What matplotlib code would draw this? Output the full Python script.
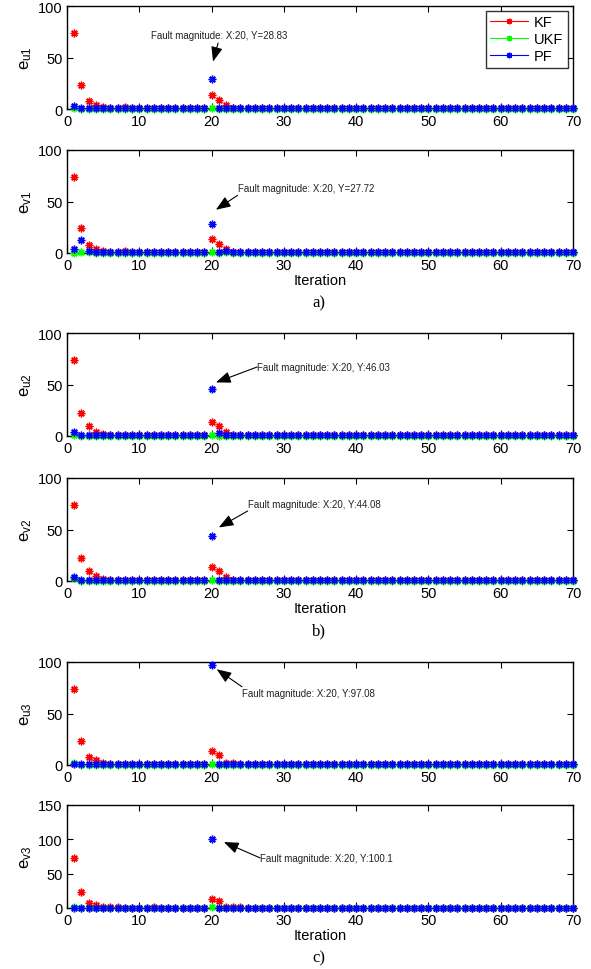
import matplotlib
matplotlib.use("Agg")
import matplotlib.pyplot as plt
from matplotlib.lines import Line2D

plt.rcParams['font.family'] = ['Liberation Sans', 'DejaVu Sans']
plt.rcParams['mathtext.fontset'] = 'custom'
plt.rcParams['mathtext.rm'] = 'Liberation Sans'
plt.rcParams['mathtext.it'] = 'Liberation Sans'

iterations = list(range(1, 71))
tail = 45  # iterations 26..70 sit at the near-zero level

# ---- subplot data ----
kf_u1 = [74, 23.5, 8, 3.5, 1.5, 1, 1, 2, 0.6, 0.5, 0.5, 0.5, 0.5, 0.5, 0.5, 0.5, 0.5, 0.5, 0.5,
         13.5, 9, 3.5, 1.2, 0.8, 1.0] + [0.6] * tail
ukf_u1 = [1.0, 0.3, 0.3, 0.3, 0.3, 0.3, 0.3, 0.3, 0.3, 0.3, 0.3, 0.3, 0.3, 0.3, 0.3, 0.3, 0.3, 0.3, 0.3,
          1.0, 0.3, 0.3, 0.3, 0.3, 0.3] + [0.3] * tail
pf_u1 = [3, 0.5, 0.5, 0.5, 0.5, 0.5, 0.5, 0.5, 0.5, 0.5, 0.5, 0.5, 0.5, 0.5, 0.5, 0.5, 0.5, 0.5, 0.5,
         28.83, 0.5, 0.5, 0.5, 0.5, 0.5] + [0.5] * tail

kf_v1 = [74, 24, 8, 3.5, 1.5, 1, 1, 2, 0.6, 0.5, 0.5, 0.5, 0.5, 0.5, 0.5, 0.5, 0.5, 0.5, 0.5,
         13.5, 9, 3.5, 1.2, 0.8, 1.0] + [0.6] * tail
ukf_v1 = [0.3, 0.5, 0.5, 0.3, 0.3, 0.3, 0.3, 0.3, 0.3, 0.3, 0.3, 0.3, 0.3, 0.3, 0.3, 0.3, 0.3, 0.3, 0.3,
          0.5, 0.3, 0.5, 0.3, 0.3, 0.3] + [0.3] * tail
pf_v1 = [4, 12.5, 2, 0.5, 0.5, 0.5, 0.5, 0.5, 0.5, 0.5, 0.5, 0.5, 0.5, 0.5, 0.5, 0.5, 0.5, 0.5, 0.5,
         27.72, 0.5, 1.5, 0.5, 0.5, 0.5] + [0.5] * tail

kf_u2 = [74, 22, 9.5, 4, 1.5, 1, 0.6, 0.6, 0.5, 0.5, 0.5, 1.0, 0.5, 0.5, 0.5, 0.5, 0.5, 0.5, 0.5,
         13.5, 10, 4, 1.2, 0.8, 0.6] + [0.6] * tail
ukf_u2 = [1.0, 0.3, 0.3, 0.3, 0.3, 0.3, 0.3, 0.3, 0.3, 0.3, 0.3, 0.3, 0.3, 0.3, 0.3, 0.3, 0.3, 0.3, 0.3,
          1.0, 0.3, 0.3, 0.3, 0.3, 0.3] + [0.3] * tail
pf_u2 = [4, 0.5, 0.5, 0.5, 0.5, 0.5, 0.5, 0.5, 0.5, 0.5, 0.5, 0.5, 0.5, 0.5, 0.5, 0.5, 0.5, 0.5, 0.5,
         46.03, 2.5, 0.5, 0.5, 0.5, 0.5] + [0.5] * tail

kf_v2 = [74, 22, 9.5, 4.5, 2, 1, 0.6, 0.6, 0.5, 0.5, 0.5, 1.0, 0.5, 0.5, 0.5, 0.5, 0.5, 0.5, 0.5,
         13.5, 9.5, 3.5, 1.2, 0.8, 0.6] + [0.6] * tail
ukf_v2 = [3.0, 0.3, 0.3, 0.3, 0.3, 0.3, 0.3, 0.3, 0.3, 0.3, 0.3, 0.3, 0.3, 0.3, 0.3, 0.3, 0.3, 0.3, 0.3,
          1.0, 0.3, 0.3, 0.3, 0.3, 0.3] + [0.3] * tail
pf_v2 = [4, 0.5, 0.5, 0.5, 0.5, 0.5, 0.5, 0.5, 0.5, 0.5, 0.5, 0.5, 0.5, 0.5, 0.5, 0.5, 0.5, 0.5, 0.5,
         44.08, 0.5, 0.5, 0.5, 0.5, 0.5] + [0.5] * tail

kf_u3 = [74, 23, 8, 4.5, 1.5, 1.2, 0.6, 0.6, 0.5, 0.5, 0.5, 1.0, 0.5, 1.0, 0.5, 0.5, 0.5, 0.5, 0.5,
         13.5, 9.5, 2, 2, 0.8, 0.6] + [0.7] * tail
ukf_u3 = [1.5, 0.3, 0.3, 0.3, 0.3, 0.3, 0.3, 0.3, 0.3, 0.3, 0.3, 0.3, 0.3, 0.3, 0.3, 0.3, 0.3, 0.3, 0.3,
          1.0, 0.3, 0.3, 0.3, 0.3, 0.3] + [0.3] * tail
pf_u3 = [0.5, 0.5, 0.5, 0.5, 0.5, 0.5, 0.5, 0.5, 0.5, 0.5, 0.5, 0.5, 0.5, 0.5, 0.5, 0.5, 0.5, 0.5, 0.5,
         97.08, 0.5, 0.5, 0.5, 0.5, 0.5] + [0.5] * tail

kf_v3 = [73, 23, 8, 4, 1.5, 1.2, 1.0, 0.6, 0.5, 0.5, 0.5, 1.0, 0.5, 0.5, 0.5, 0.5, 0.5, 0.5, 0.5,
         13.5, 10, 2, 2, 0.8, 0.6] + [0.7] * tail
ukf_v3 = [2.0, 0.3, 0.3, 0.3, 0.3, 0.3, 0.3, 0.3, 0.3, 0.3, 0.3, 0.3, 0.3, 0.3, 0.3, 0.3, 0.3, 0.3, 0.3,
          1.0, 0.3, 0.3, 0.3, 0.3, 0.3] + [0.3] * tail
pf_v3 = [0.5, 0.5, 0.5, 0.5, 0.5, 0.5, 0.5, 0.5, 0.5, 0.5, 0.5, 0.5, 0.5, 0.5, 0.5, 0.5, 0.5, 0.5, 0.5,
         100.1, 0.5, 0.5, 0.5, 0.5, 0.5] + [0.5] * tail

series_names = ["KF", "UKF", "PF"]
series_colors = ["#ff0000", "#00ff00", "#0000ff"]
ylabels = ["u1", "v1", "u2", "v2", "u3", "v3"]
ylims = [100, 100, 100, 100, 100, 150]
yticks_list = [[0, 50, 100]] * 5 + [[0, 50, 100, 150]]
xticks = [0, 10, 20, 30, 40, 50, 60, 70]
all_data = [
    (kf_u1, ukf_u1, pf_u1), (kf_v1, ukf_v1, pf_v1),
    (kf_u2, ukf_u2, pf_u2), (kf_v2, ukf_v2, pf_v2),
    (kf_u3, ukf_u3, pf_u3), (kf_v3, ukf_v3, pf_v3),
]
fault_labels = ["Fault magnitude: X:20, Y=28.83", "Fault magnitude: X:20, Y=27.72",
                "Fault magnitude: X:20, Y:46.03", "Fault magnitude: X:20, Y:44.08",
                "Fault magnitude: X:20, Y:97.08", "Fault magnitude: X:20, Y:100.1"]
# (arrow head xy, arrow tail xy, text xy, text ha)
annot_pos = [((20.2, 46), (20.9, 64), (21.0, 72), 'center'),
             ((20.6, 42), (23.6, 56), (23.6, 63), 'left'),
             ((20.6, 52), (26.3, 67), (26.3, 67), 'left'),
             ((21.0, 52), (25.0, 68), (25.0, 75), 'left'),
             ((20.7, 93), (24.2, 76), (24.2, 70), 'left'),
             ((21.7, 96), (26.7, 73), (26.7, 73), 'left')]
panel_labels = ["a)", "b)", "c)"]

W, H = 591, 970
fig = plt.figure(figsize=(W / 100, H / 100), dpi=100)
ax_tops = [7, 151, 334, 479, 663, 806]
ax_h = 103
x0, x1 = 67, 573

marker = (8, 2, 0)
for i, (data, top) in enumerate(zip(all_data, ax_tops)):
    ax = fig.add_axes([x0 / W, 1 - (top + ax_h) / H, (x1 - x0) / W, ax_h / H])
    for vals, name, col in zip(data, series_names, series_colors):
        ax.plot(iterations, vals, linestyle='none', marker=marker, markersize=5.5,
                markeredgewidth=1.0, color=col, clip_on=False, zorder=3)
    ax.set_xlim(0, 70)
    ax.set_ylim(0, ylims[i])
    ax.set_xticks(xticks)
    ax.set_yticks(yticks_list[i])
    ax.tick_params(direction='in', top=True, right=True, labelsize=10.5, length=4,
                   width=0.8)
    ax.tick_params(axis='x', pad=3.5)
    ax.tick_params(axis='y', pad=3)
    for sp in ax.spines.values():
        sp.set_linewidth(1.0)
    ax.set_ylabel(r"$\mathregular{e_{%s}}$" % ylabels[i], fontsize=12, labelpad=3)
    if i % 2 == 1:
        ax.set_xlabel("Iteration", fontsize=10.5, labelpad=1)
    (hx, hy), (ax_, ay_), (tx, ty), ha = annot_pos[i]
    ax.annotate("", xy=(hx, hy), xytext=(ax_, ay_),
                arrowprops=dict(arrowstyle='-|>,head_length=0.9,head_width=0.35',
                                color='black', lw=0.8, shrinkA=0, shrinkB=0))
    ax.text(tx, ty, fault_labels[i], ha=ha, va='center', fontsize=7, color='#222222')
    if i == 0:
        handles = [Line2D([0], [0], color=c, lw=0.8, marker=marker, markersize=4,
                          markeredgewidth=1.0) for c in series_colors]
        leg = ax.legend(handles, series_names, loc='upper right', fontsize=10.5,
                        frameon=True, fancybox=False, edgecolor='black',
                        borderpad=0.3, handlelength=2.6, handletextpad=0.4,
                        labelspacing=0.2, borderaxespad=0.35)
        leg.get_frame().set_linewidth(1.0)

for lbl, y in zip(panel_labels, [303, 631, 958]):
    fig.text(319 / W, 1 - y / H, lbl, family='Liberation Serif', fontsize=12,
             ha='center', va='center')

fig.savefig("out.png", dpi=100)
